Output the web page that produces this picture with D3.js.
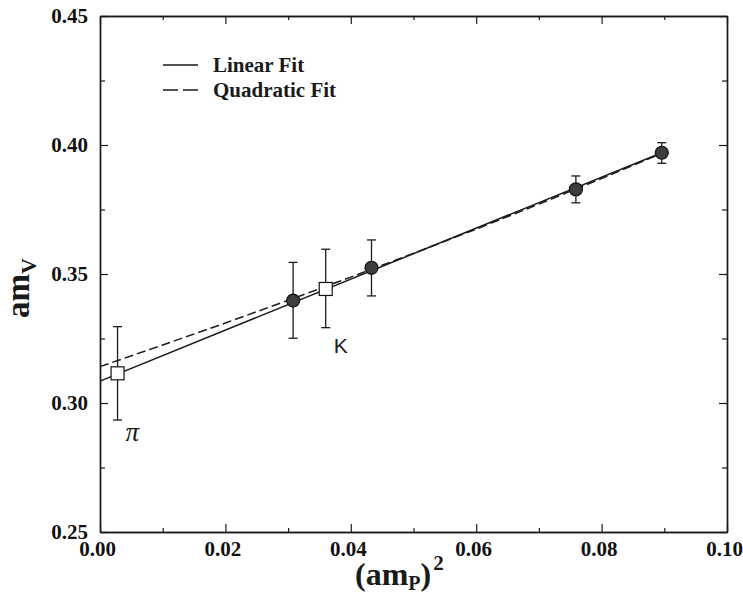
<!DOCTYPE html>
<html>
<head>
<meta charset="utf-8">
<script src="https://cdn.jsdelivr.net/npm/d3@7"></script>
<style>
  html, body { margin: 0; padding: 0; background: #fff; }
  svg { display: block; }
</style>
</head>
<body>
<svg id="chart" width="743" height="598"></svg>
<script>
// Vector-meson mass vs. pseudoscalar mass squared (lattice units)
const pointX    = [0.0028, 0.0308, 0.0360, 0.0433, 0.0759, 0.0896];
const pointY    = [0.3115, 0.3397, 0.3442, 0.3524, 0.3828, 0.3970];
const pointLo   = [0.2934, 0.3251, 0.3292, 0.3415, 0.3776, 0.3929];
const pointHi   = [0.3296, 0.3545, 0.3596, 0.3632, 0.3880, 0.4009];
const pointKind = ["square", "circle", "square", "circle", "circle", "circle"];
const pointName = ["\u03c0", "", "K", "", "", ""];

// Fit curves
const linearX    = [0.0, 0.0896];
const linearY    = [0.3085, 0.3970];
const quadraticX = [0.0, 0.01, 0.02, 0.03, 0.04, 0.05, 0.06, 0.07, 0.08, 0.0896];
const quadraticY = [0.3141, 0.3225, 0.3310, 0.3398, 0.3488, 0.3580, 0.3674, 0.3771, 0.3870, 0.3968];

// Axis ticks
const xMajor = [0.00, 0.02, 0.04, 0.06, 0.08, 0.10];
const xMinor = [0.01, 0.03, 0.05, 0.07, 0.09];
const yMajor = [0.25, 0.30, 0.35, 0.40, 0.45];
const yMinor = [0.275, 0.325, 0.375, 0.425];

const legendLabels = ["Linear Fit", "Quadratic Fit"];

const svg = d3.select("#chart");
const L = 100, R = 727, T = 16, B = 532;
const x = d3.scaleLinear().domain([0, 0.10]).range([L, R]);
const y = d3.scaleLinear().domain([0.25, 0.45]).range([B, T]);
const ink = "#1a1a1a";
const serif = "'Liberation Serif', 'Times New Roman', serif";

// Axes on all four sides, ticks pointing inward
function styleAxis(g) {
  g.select(".domain").attr("stroke", ink).attr("stroke-width", 1.4);
  g.selectAll(".tick line").attr("stroke", ink).attr("stroke-width", 1.2);
  g.attr("font-family", null).attr("font-size", null);
  g.selectAll(".tick text")
    .style("font-family", serif).style("font-weight", "bold")
    .style("font-size", "21px").attr("fill", "#111");
}
const fmt = d3.format(".2f");

svg.append("g").attr("transform", `translate(0,${B})`)
  .call(d3.axisBottom(x).tickValues(xMinor).tickSizeInner(-4).tickSizeOuter(0).tickFormat(""))
  .call(styleAxis);
const gx = svg.append("g").attr("transform", `translate(0,${B})`)
  .call(d3.axisBottom(x).tickValues(xMajor).tickSizeInner(-8).tickSizeOuter(0).tickPadding(9).tickFormat(fmt))
  .call(styleAxis);
gx.selectAll(".tick text").attr("dx", -3);

svg.append("g").attr("transform", `translate(0,${T})`)
  .call(d3.axisTop(x).tickValues(xMinor).tickSizeInner(-4).tickSizeOuter(0).tickFormat(""))
  .call(styleAxis);
svg.append("g").attr("transform", `translate(0,${T})`)
  .call(d3.axisTop(x).tickValues(xMajor).tickSizeInner(-8).tickSizeOuter(0).tickFormat(""))
  .call(styleAxis);

svg.append("g").attr("transform", `translate(${L},0)`)
  .call(d3.axisLeft(y).tickValues(yMinor).tickSizeInner(-5).tickSizeOuter(0).tickFormat(""))
  .call(styleAxis);
svg.append("g").attr("transform", `translate(${L},0)`)
  .call(d3.axisLeft(y).tickValues(yMajor).tickSizeInner(-8).tickSizeOuter(0).tickPadding(12).tickFormat(fmt))
  .call(styleAxis);

svg.append("g").attr("transform", `translate(${R},0)`)
  .call(d3.axisRight(y).tickValues(yMinor).tickSizeInner(-5).tickSizeOuter(0).tickFormat(""))
  .call(styleAxis);
svg.append("g").attr("transform", `translate(${R},0)`)
  .call(d3.axisRight(y).tickValues(yMajor).tickSizeInner(-8).tickSizeOuter(0).tickFormat(""))
  .call(styleAxis);

// Fit lines
const line = d3.line().x(d => x(d[0])).y(d => y(d[1]));
svg.append("path")
  .datum(quadraticX.map((v, i) => [v, quadraticY[i]]))
  .attr("d", line).attr("fill", "none").attr("stroke", ink)
  .attr("stroke-width", 1.5).attr("stroke-dasharray", "9,4");
svg.append("path")
  .datum(linearX.map((v, i) => [v, linearY[i]]))
  .attr("d", line).attr("fill", "none").attr("stroke", ink)
  .attr("stroke-width", 1.5);

// Error bars
const pts = pointX.map((v, i) => ({
  x: v, y: pointY[i], lo: pointLo[i], hi: pointHi[i], kind: pointKind[i], name: pointName[i]
}));
const eb = svg.append("g").attr("stroke", ink).attr("stroke-width", 1.3);
pts.forEach(d => {
  eb.append("line").attr("x1", x(d.x)).attr("x2", x(d.x)).attr("y1", y(d.lo)).attr("y2", y(d.hi));
  eb.append("line").attr("x1", x(d.x) - 4.5).attr("x2", x(d.x) + 4.5).attr("y1", y(d.lo)).attr("y2", y(d.lo));
  eb.append("line").attr("x1", x(d.x) - 4.5).attr("x2", x(d.x) + 4.5).attr("y1", y(d.hi)).attr("y2", y(d.hi));
});

// Markers
const mk = svg.append("g");
pts.forEach(d => {
  if (d.kind === "circle") {
    mk.append("circle").attr("cx", x(d.x)).attr("cy", y(d.y)).attr("r", 6.5)
      .attr("fill", "#3d3d3d").attr("stroke", "#111").attr("stroke-width", 1.2);
  } else {
    mk.append("rect").attr("x", x(d.x) - 6.5).attr("y", y(d.y) - 6.5)
      .attr("width", 13).attr("height", 13)
      .attr("fill", "#fff").attr("stroke", "#111").attr("stroke-width", 1.2);
  }
});

// Point names
svg.append("text").attr("x", x(pts[0].x) + 8).attr("y", y(pts[0].lo) + 21)
  .style("font-family", serif).style("font-style", "italic")
  .style("font-size", "27px").attr("fill", ink).text(pts[0].name);
svg.append("text").attr("x", x(pts[2].x) + 8).attr("y", y(pts[2].lo) + 25)
  .style("font-family", "'Liberation Sans', Arial, sans-serif")
  .style("font-size", "21px").attr("fill", ink).text(pts[2].name);

// Legend
const lg = svg.append("g");
legendLabels.forEach((lab, i) => {
  const yy = 65 + i * 25;
  lg.append("line").attr("x1", 163).attr("x2", 198).attr("y1", yy).attr("y2", yy)
    .attr("stroke", ink).attr("stroke-width", 1.4)
    .attr("stroke-dasharray", i === 1 ? "15,5" : null);
  lg.append("text").attr("x", 213).attr("y", yy + 7)
    .style("font-family", serif).style("font-weight", "bold")
    .style("font-size", "21px").attr("fill", ink).text(lab);
});

// Axis titles
const xt = svg.append("text").attr("x", 355).attr("y", 585)
  .style("font-family", serif).style("font-weight", "bold")
  .style("font-size", "32px").attr("fill", ink);
xt.append("tspan").text("(am");
xt.append("tspan").style("font-size", "20px").attr("dy", 5).text("P");
xt.append("tspan").attr("dy", -5).text(")");
xt.append("tspan").style("font-size", "21px").attr("dy", -15).attr("dx", 2).text("2");

const yt = svg.append("text").attr("transform", "translate(29,318) rotate(-90)")
  .style("font-family", serif).style("font-weight", "bold")
  .style("font-size", "33px").attr("fill", ink);
yt.append("tspan").text("am");
yt.append("tspan").style("font-size", "22px").attr("dy", 7).text("V");
</script>
</body>
</html>
